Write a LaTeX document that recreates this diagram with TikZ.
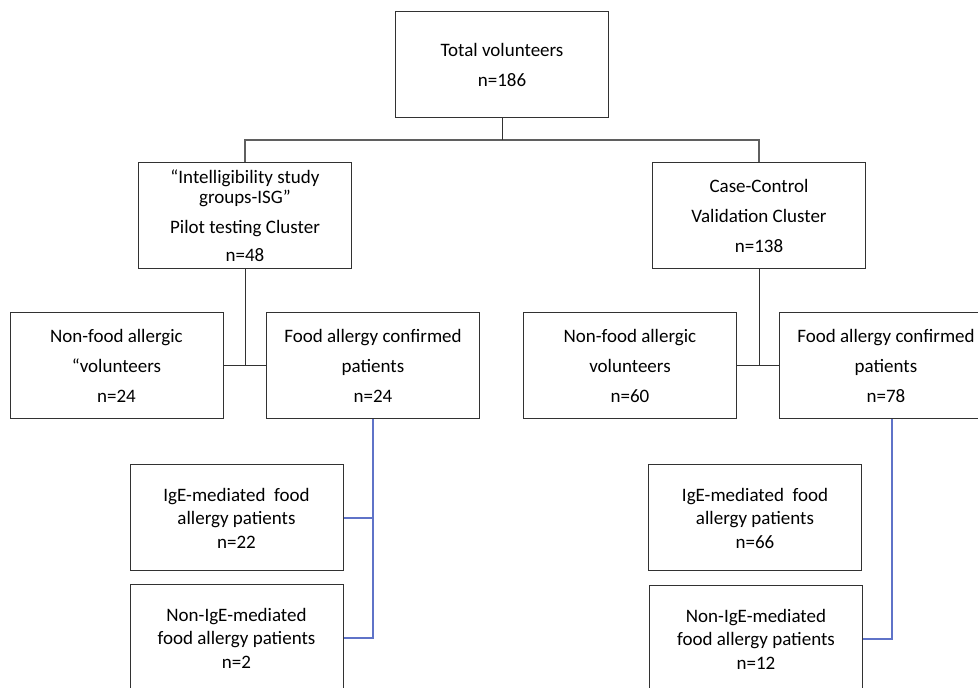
\documentclass[tikz,border=0pt]{standalone}
\usepackage{fontspec}
\setmainfont{Carlito}
\usetikzlibrary{positioning}

\definecolor{boxline}{RGB}{50,50,50}
\definecolor{barline}{RGB}{95,95,95}
\definecolor{subline}{RGB}{95,115,200}

\tikzset{
  box/.style={draw=boxline, line width=1pt, minimum width=213pt, minimum height=106pt,
    align=center, inner sep=0pt, font=\fontsize{19}{30}\selectfont},
  smallbox/.style={box, font=\fontsize{19}{23.5}\selectfont},
  link/.style={draw=boxline, line width=1pt},
  barlink/.style={draw=barline, line width=1.4pt},
  sublink/.style={draw=subline, line width=1.2pt}
}

\begin{document}
\begin{tikzpicture}[x=1pt,y=1pt]
		\useasboundingbox (0,0) rectangle (978,688);
		\clip (0,0) rectangle (978,688);
		% top level
		\node[box] (total) at (502,623) {Total volunteers\\n=186};
		\node[box] (isg) at (245,472) {“Intelligibility study\\[-10pt]groups-ISG”\\Pilot testing Cluster\\[-2pt]n=48};
		\node[box] (cc) at (759,472) {Case-Control\\Validation Cluster\\n=138};
		% second row
		\node[box] (nfa1) at (116.5,322) {Non-food allergic\\“volunteers\\n=24};
		\node[box] (fac1) at (373,322) {Food allergy confirmed\\patients\\n=24};
		\node[box] (nfa2) at (630,322) {Non-food allergic\\volunteers\\n=60};
		\node[box] (fac2) at (886,322) {Food allergy confirmed\\patients\\n=78};
		% third row
		\node[smallbox] (ige1) at (236.5,170) {IgE-mediated~ food\\allergy patients\\n=22};
		\node[smallbox] (nige1) at (236.5,50) {Non-IgE-mediated\\food allergy patients\\n=2};
		\node[smallbox] (ige2) at (755,170) {IgE-mediated~ food\\allergy patients\\n=66};
		\node[smallbox] (nige2) at (756,49) {Non-IgE-mediated\\food allergy patients\\n=12};
		% connectors
		\coordinate (bar) at (502,548);
		\draw[barlink] (isg.north) |- (bar) -| (cc.north);
		\draw[link] (total.south) -- (bar);
		\draw[link] (isg.south) -- (isg.south |- nfa1.east);
		\draw[link] (nfa1.east) -- (fac1.west);
		\draw[link] (cc.south) -- (cc.south |- nfa2.east);
		\draw[link] (nfa2.east) -- (fac2.west);
		\draw[sublink] (fac1.south) |- (nige1.east);
		\draw[sublink] (ige1.east) -- (fac1.south |- ige1.east);
		\coordinate (fork2) at ([xshift=6pt]fac2.south);
		\draw[sublink] (fork2) |- (nige2.east);
\end{tikzpicture}
\end{document}
